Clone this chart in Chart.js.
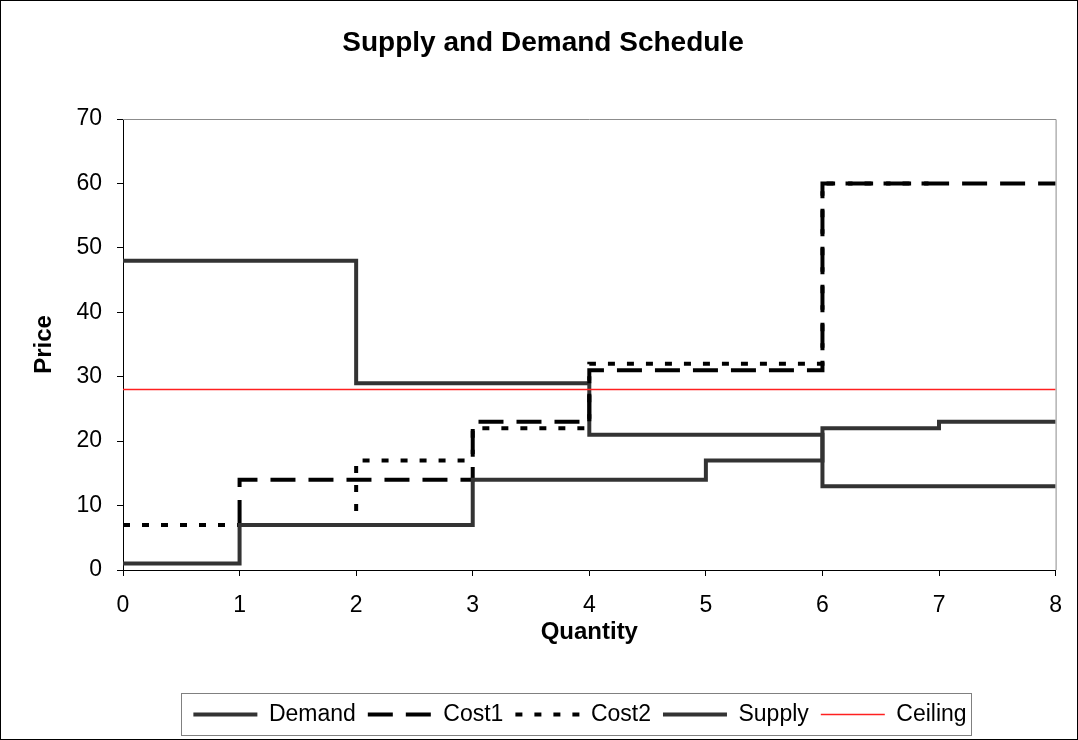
<!DOCTYPE html>
<html>
<head>
<meta charset="utf-8">
<script src="https://cdn.jsdelivr.net/npm/chart.js@4/dist/chart.umd.min.js"></script>
<style>
  body { margin: 0; background: #fff; }
  canvas { display: block; }
</style>
</head>
<body>
<canvas id="schedule-chart" width="1078" height="740"></canvas>
<script>
// Step breakpoints (x = quantity, y = price)
const demandX = [0, 2, 4, 6, 8];
const demandY = [48, 29, 21, 13, 13];
const cost1X = [1, 1, 3, 4, 6, 8];
const cost1Y = [7, 14, 23, 31, 60, 60];
const cost2X = [0, 2, 3, 4, 6, 7];
const cost2Y = [7, 17, 22, 32, 60, 60];
const supplyX = [0, 1, 3, 5, 6, 7, 8];
const supplyY = [1, 7, 14, 17, 22, 23, 23];
const ceilingX = [0, 8];
const ceilingY = [28, 28];
const xTicks = [0, 1, 2, 3, 4, 5, 6, 7, 8];
const yTicks = [0, 10, 20, 30, 40, 50, 60, 70];

function toPoints(xs, ys) {
    return xs.map((x, i) => ({ x: x, y: ys[i] }));
}

document.addEventListener('DOMContentLoaded', function() {
    Chart.defaults.font.family = "'Liberation Sans', Arial, sans-serif";
    Chart.defaults.color = '#000';

    // gray plot border, outer frame and the box round the legend
    const frame = {
        id: 'frame',
        afterLayout(chart) {
            // legend sits a little right of centre in the original
            chart.legend.left += 37;
            chart.legend.right += 37;
        },
        beforeDatasetsDraw(chart) {
            const a = chart.chartArea;
            const ctx = chart.ctx;
            ctx.save();
            ctx.strokeStyle = '#8c8c8c';
            ctx.lineWidth = 1;
            ctx.beginPath();
            ctx.moveTo(a.left, a.top + 0.5);
            ctx.lineTo(a.right + 0.5, a.top + 0.5);
            ctx.lineTo(a.right + 0.5, a.bottom);
            ctx.stroke();
            ctx.restore();
        },
        afterDraw(chart) {
            const ctx = chart.ctx;
            ctx.save();
            ctx.strokeStyle = '#000';
            ctx.lineWidth = 1;
            ctx.strokeRect(0.5, 0.5, chart.width - 1, chart.height - 1);
            const boxes = chart.legend.legendHitBoxes;
            if (boxes && boxes.length) {
                const left = Math.min(...boxes.map(b => b.left)) - 12;
                const right = Math.max(...boxes.map(b => b.left + b.width)) + 5;
                const top = Math.min(...boxes.map(b => b.top)) - 10;
                const bottom = Math.max(...boxes.map(b => b.top + b.height)) + 9;
                ctx.strokeStyle = '#808080';
                ctx.strokeRect(Math.round(left) + 0.5, Math.round(top) + 0.5, Math.round(right - left), Math.round(bottom - top));
            }
            ctx.restore();
        }
    };

    const ctx = document.getElementById('schedule-chart').getContext('2d');
    new Chart(ctx, {
        type: 'scatter',
        data: {
            datasets: [
                {
                    label: 'Demand',
                    data: toPoints(demandX, demandY),
                    showLine: true,
                    stepped: true,
                    borderColor: '#333333',
                    backgroundColor: '#333333',
                    borderWidth: 4,
                    pointRadius: 0,
                    order: 5
                },
                {
                    label: 'Cost1',
                    data: toPoints(cost1X, cost1Y),
                    showLine: true,
                    stepped: true,
                    borderColor: '#000',
                    backgroundColor: '#000',
                    borderWidth: 4,
                    borderDash: [25, 13],
                    pointRadius: 0,
                    order: 4
                },
                {
                    label: 'Cost2',
                    data: toPoints(cost2X, cost2Y),
                    showLine: true,
                    stepped: true,
                    borderColor: '#000',
                    backgroundColor: '#000',
                    borderWidth: 4,
                    borderDash: [7, 12],
                    pointRadius: 0,
                    order: 3
                },
                {
                    label: 'Supply',
                    data: toPoints(supplyX, supplyY),
                    showLine: true,
                    stepped: true,
                    borderColor: '#333333',
                    backgroundColor: '#333333',
                    borderWidth: 4,
                    pointRadius: 0,
                    order: 2
                },
                {
                    label: 'Ceiling',
                    data: toPoints(ceilingX, ceilingY),
                    showLine: true,
                    borderColor: '#ff2020',
                    backgroundColor: '#ff2020',
                    borderWidth: 1.5,
                    pointRadius: 0,
                    order: 1
                }
            ]
        },
        options: {
            responsive: false,
            animation: false,
            devicePixelRatio: 1,
            layout: {
                padding: { left: 30, right: 22, top: 0, bottom: 4 }
            },
            plugins: {
                tooltip: { enabled: false },
                title: {
                    display: true,
                    text: 'Supply and Demand Schedule',
                    font: { size: 28, weight: 'bold' },
                    padding: { top: 26, bottom: 59.4 }
                },
                legend: {
                    display: true,
                    position: 'bottom',
                    labels: {
                        usePointStyle: true,
                        pointStyle: 'line',
                        pointStyleWidth: 64,
                        font: { size: 23 },
                        padding: 12,
                        sort: (a, b) => a.datasetIndex - b.datasetIndex,
                        generateLabels: chart => Chart.defaults.plugins.legend.labels.generateLabels(chart).map(item => {
                            const ds = chart.data.datasets[item.datasetIndex];
                            item.lineDash = ds.borderDash || [];
                            item.lineWidth = ds.borderWidth;
                            item.strokeStyle = ds.borderColor;
                            return item;
                        })
                    }
                }
            },
            scales: {
                x: {
                    type: 'linear',
                    min: 0,
                    max: 8,
                    afterBuildTicks: axis => { axis.ticks = xTicks.map(v => ({ value: v })); },
                    afterFit: scale => { scale.height = 121; },
                    ticks: { font: { size: 23 }, padding: 16 },
                    grid: { display: true, drawOnChartArea: false, drawTicks: true, tickLength: 6, color: '#000' },
                    border: { display: true, color: '#000', width: 1 },
                    title: {
                        display: true,
                        text: 'Quantity',
                        font: { size: 24, weight: 'bold' },
                        padding: { top: 0, bottom: 44 }
                    }
                },
                y: {
                    type: 'linear',
                    min: 0,
                    max: 70,
                    afterBuildTicks: axis => { axis.ticks = yTicks.map(v => ({ value: v })); },
                    afterFit: scale => { scale.width = 93; },
                    ticks: { font: { size: 23 }, padding: 15 },
                    grid: { display: true, drawOnChartArea: false, drawTicks: true, tickLength: 6, color: '#000' },
                    border: { display: true, color: '#000', width: 1 },
                    title: {
                        display: true,
                        text: 'Price',
                        font: { size: 24, weight: 'bold' },
                        padding: { top: 0, bottom: 0 }
                    }
                }
            }
        },
        plugins: [frame]
    });
});
</script>
</body>
</html>
